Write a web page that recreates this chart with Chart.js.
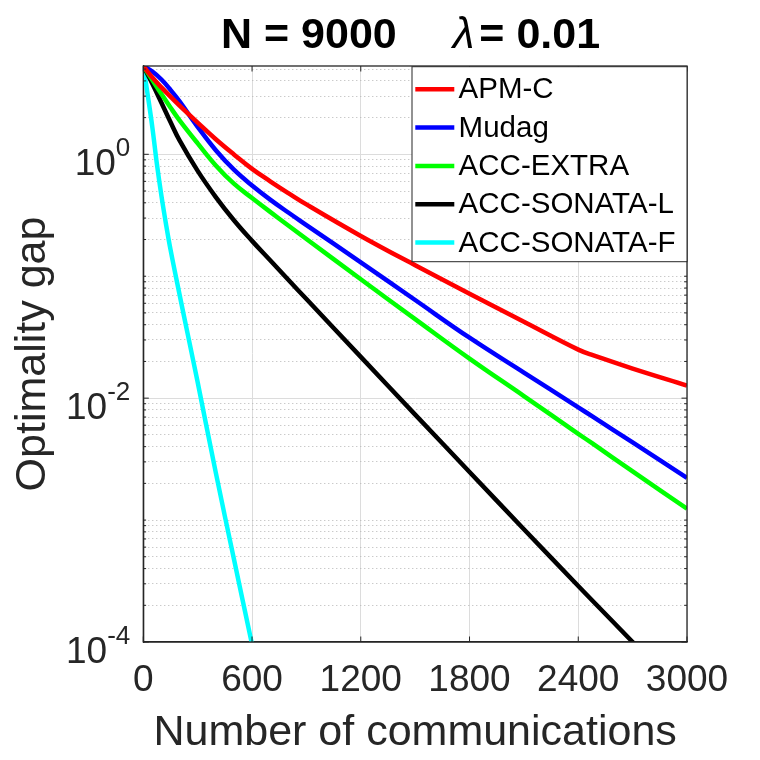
<!DOCTYPE html>
<html>
<head>
<meta charset="utf-8">
<script src="https://cdn.jsdelivr.net/npm/chart.js@4.4.0/dist/chart.umd.min.js"></script>
<style>
  html, body { margin: 0; padding: 0; background: #fff; }
  #wrap { width: 760px; height: 760px; }
</style>
</head>
<body>
<div id="wrap"><canvas id="myChart" width="760" height="760"></canvas></div>
<script>
// values
const communications = [0, 50, 100, 150, 200, 300, 400, 500, 600, 700, 800, 900, 1200, 1500, 1800, 2100, 2400, 2480, 2700, 3000];
const apmC       = [5.30, 4.26, 3.54, 2.97, 2.51, 1.82, 1.33, 0.998, 0.760, 0.601, 0.481, 0.388, 0.214, 0.123, 0.0719, 0.0423, 0.0250, 0.0225, 0.0175, 0.0127];
const mudag      = [5.30, 4.78, 4.11, 3.38, 2.72, 1.68, 1.08, 0.748, 0.555, 0.425, 0.333, 0.263, 0.130, 0.0638, 0.0313, 0.0162, 0.00841, 0.00705, 0.00433, 0.00222];
const accExtra   = [5.30, 4.06, 3.12, 2.42, 1.90, 1.23, 0.811, 0.574, 0.438, 0.337, 0.261, 0.202, 0.0944, 0.0445, 0.0211, 0.0104, 0.00510, 0.00423, 0.00251, 0.00124];
const accSonataL = [5.30, 3.79, 2.65, 1.84, 1.30, 0.731, 0.446, 0.288, 0.195, 0.135, 0.0935, 0.0650, 0.0218, 0.00733, 0.00248, 0.000841, 0.000288, 0.000217, 0.000100, 0.0000343];

const communicationsF = [0, 25, 50, 75, 100, 125, 150, 200, 250, 300, 400, 500, 600, 650];
const accSonataF = [5.30, 3.02, 1.66, 0.832, 0.457, 0.269, 0.166, 0.0708, 0.0309, 0.0135, 0.00245, 0.000479, 0.0000955, 0.0000427];

const seriesNames = ['APM-C', 'Mudag', 'ACC-EXTRA', 'ACC-SONATA-L', 'ACC-SONATA-F'];
const xTicks = [0, 600, 1200, 1800, 2400, 3000];
const yLabelTicks = [1, 1e-2, 1e-4];
const yLabelExponents = ['0', '-2', '-4'];
const yMin = 1e-4;
const yMax = 5.3;

const FONT = "'Liberation Sans', Arial, Helvetica, sans-serif";
const AXIS = '#262626';

function toPoints(xs, ys) {
    return xs.map((x, i) => ({ x: x, y: ys[i] }));
}

// decade + minor ticks for the log grid
function logGridTicks() {
    const ticks = [];
    for (let e = -4; e <= 0; e++) {
        for (let k = 1; k <= 9; k++) {
            const v = k * Math.pow(10, e);
            if (v > yMax) break;
            const major = k === 1 && yLabelTicks.some(t => Math.abs(Math.log10(t) - e) < 1e-9);
            ticks.push({ value: v, major: major });
        }
    }
    return ticks;
}

const decorations = {
    id: 'decorations',
    afterDraw(chart) {
        const { ctx, chartArea: a, scales: { x, y } } = chart;
        ctx.save();

        // inward tick marks on all four sides
        ctx.strokeStyle = AXIS;
        ctx.lineWidth = 1;
        ctx.beginPath();
        xTicks.forEach(v => {
            const px = x.getPixelForValue(v);
            ctx.moveTo(px, a.bottom); ctx.lineTo(px, a.bottom - 5.5);
            ctx.moveTo(px, a.top); ctx.lineTo(px, a.top + 5.5);
        });
        y.ticks.forEach(t => {
            const py = y.getPixelForValue(t.value);
            const len = t.major ? 5.5 : 2.8;
            ctx.moveTo(a.left, py); ctx.lineTo(a.left + len, py);
            ctx.moveTo(a.right, py); ctx.lineTo(a.right - len, py);
        });
        ctx.stroke();

        // axes box
        ctx.lineWidth = 1.3;
        ctx.strokeRect(a.left, a.top, a.right - a.left, a.bottom - a.top);

        // y tick labels 10^k
        ctx.fillStyle = AXIS;
        ctx.textBaseline = 'alphabetic';
        yLabelTicks.forEach((v, i) => {
            const py = y.getPixelForValue(v);
            const right = a.left - 13;
            ctx.font = '26px ' + FONT;
            const expW = ctx.measureText(yLabelExponents[i]).width;
            ctx.textAlign = 'left';
            ctx.fillText(yLabelExponents[i], right - expW, py + 1.5);
            ctx.font = '37px ' + FONT;
            ctx.textAlign = 'right';
            ctx.fillText('10', right - expW, py + 21);
        });

        // legend box in the upper right corner
        const lw = 275, lh = 195;
        const lx = a.right - lw, ly = a.top + 0.7;
        ctx.fillStyle = '#ffffff';
        ctx.fillRect(lx, ly, lw, lh);
        ctx.strokeStyle = AXIS;
        ctx.lineWidth = 1;
        ctx.strokeRect(lx, ly, lw, lh);
        ctx.font = '29.5px ' + FONT;
        ctx.textAlign = 'left';
        ctx.textBaseline = 'middle';
        chart.data.datasets.forEach((ds, i) => {
            const ey = ly + 22.6 + i * 38.3;
            ctx.strokeStyle = ds.borderColor;
            ctx.lineWidth = 4.5;
            ctx.beginPath();
            ctx.moveTo(lx + 3.3, ey);
            ctx.lineTo(lx + 42.3, ey);
            ctx.stroke();
            ctx.fillStyle = '#000000';
            ctx.fillText(ds.label, lx + 46.6, ey + 1);
        });

        // title: N = 9000   λ= 0.01
        const parts = [
            { text: 'N = 9000', font: 'bold 43px ' + FONT, gap: 56 },
            { text: 'λ', font: 'italic 44px ' + FONT, gap: 5 },
            { text: '= 0.01', font: 'bold 43px ' + FONT, gap: 0 }
        ];
        let tx = 221;
        ctx.fillStyle = '#000000';
        ctx.textBaseline = 'alphabetic';
        ctx.textAlign = 'left';
        parts.forEach(p => {
            ctx.font = p.font;
            ctx.fillText(p.text, tx, 48);
            tx += ctx.measureText(p.text).width + p.gap;
        });

        ctx.restore();
    }
};

function makeSet(label, xs, ys, color) {
    return {
        label: label,
        data: toPoints(xs, ys),
        borderColor: color,
        backgroundColor: color,
        borderWidth: 4.5,
        pointRadius: 0,
        tension: 0.4,
        fill: false,
        clip: 0
    };
}

const ctx = document.getElementById('myChart').getContext('2d');
const myChart = new Chart(ctx, {
    type: 'line',
    data: {
        datasets: [
            makeSet(seriesNames[0], communications, apmC, '#ff0000'),
            makeSet(seriesNames[1], communications, mudag, '#0000ff'),
            makeSet(seriesNames[2], communications, accExtra, '#00ff00'),
            makeSet(seriesNames[3], communications, accSonataL, '#000000'),
            makeSet(seriesNames[4], communicationsF, accSonataF, '#00ffff')
        ]
    },
    options: {
        responsive: false,
        animation: false,
        layout: { padding: { left: 7, right: 73, top: 66, bottom: 0 } },
        plugins: {
            legend: { display: false },
            title: { display: false },
            tooltip: { enabled: false }
        },
        scales: {
            x: {
                type: 'linear',
                min: 0,
                max: 3000,
                afterBuildTicks: scale => { scale.ticks = xTicks.map(v => ({ value: v })); },
                afterFit: scale => { scale.height = 118; },
                ticks: {
                    autoSkip: false,
                    maxRotation: 0,
                    padding: 17,
                    color: AXIS,
                    font: { family: FONT, size: 37 },
                    callback: v => String(v)
                },
                grid: { color: '#dcdcdc', lineWidth: 1, drawTicks: false },
                border: { color: AXIS, width: 1.3 },
                title: {
                    display: true,
                    text: 'Number of communications',
                    color: AXIS,
                    font: { family: FONT, size: 43 },
                    padding: { top: 0, bottom: 1 }
                }
            },
            y: {
                type: 'logarithmic',
                min: yMin,
                max: yMax,
                afterBuildTicks: scale => { scale.ticks = logGridTicks(); },
                afterFit: scale => { scale.width = 136.3; },
                ticks: { display: false },
                grid: {
                    drawTicks: false,
                    lineWidth: 1,
                    color: c => (c.tick && c.tick.major) ? '#dcdcdc' : '#b4b4b4'
                },
                border: {
                    color: AXIS,
                    width: 1.3,
                    dash: c => (c.tick && !c.tick.major) ? [1, 3] : []
                },
                title: {
                    display: true,
                    text: 'Optimality gap',
                    color: AXIS,
                    font: { family: FONT, size: 43 },
                    padding: { top: 0, bottom: 0 }
                }
            }
        }
    },
    plugins: [decorations]
});
</script>
</body>
</html>
